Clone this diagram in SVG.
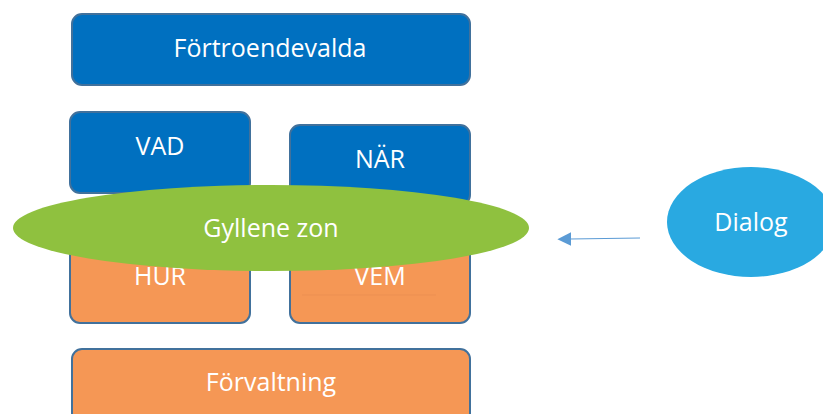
<svg xmlns="http://www.w3.org/2000/svg" width="823" height="414" viewBox="0 0 823 414">
<defs>
<style>
.blue{fill:#0070C0;stroke:#41719C;stroke-width:2}
.orange{fill:#F59755;stroke:#41719C;stroke-width:2}
.t{font-family:"Open Sans","Liberation Sans",sans-serif;font-size:25px;fill:#FFFFFF;text-anchor:middle;dominant-baseline:central}
</style>
<marker id="ah" viewBox="0 0 10 10" refX="1" refY="5" markerUnits="userSpaceOnUse" markerWidth="14" markerHeight="14" orient="auto-start-reverse">
<path d="M0,0 L10,5 L0,10 z" fill="#5B9BD5"/>
</marker>
</defs>
<g id="fortroendevalda">
<rect class="blue" x="72" y="14" width="398" height="71" rx="10"/>
<text class="t" x="270" y="47">Förtroendevalda</text>
</g>
<g id="vad">
<rect class="blue" x="70" y="112" width="180" height="81" rx="10"/>
<text class="t" x="160" y="145">VAD</text>
</g>
<g id="nar">
<rect class="blue" x="290" y="125" width="180" height="80" rx="10"/>
<text class="t" x="380" y="158">NÄR</text>
</g>
<g id="hur">
<rect class="orange" x="70" y="245" width="180" height="78" rx="10"/>
<text class="t" x="160" y="275">HUR</text>
</g>
<g id="vem">
<rect class="orange" x="290" y="245" width="180" height="78" rx="10"/>
<line x1="302" y1="295" x2="436" y2="295" stroke="#EA8E50" stroke-width="0.7"/>
<text class="t" x="380" y="275">VEM</text>
</g>
<g id="gyllene-zon">
<ellipse cx="271" cy="228" rx="258" ry="43" fill="#8FC13F"/>
<text class="t" x="271" y="227">Gyllene zon</text>
</g>
<g id="forvaltning">
<rect class="orange" x="72" y="349" width="398" height="75" rx="10"/>
<text class="t" x="271" y="381">Förvaltning</text>
</g>
<g id="dialog">
<ellipse cx="751" cy="222" rx="84" ry="55" fill="#29A9E1"/>
<text class="t" x="751" y="221">Dialog</text>
</g>
<g id="connectors">
<line x1="640" y1="238" x2="570" y2="239" stroke="#5B9BD5" stroke-width="1.2" marker-end="url(#ah)"/>
</g>
</svg>
